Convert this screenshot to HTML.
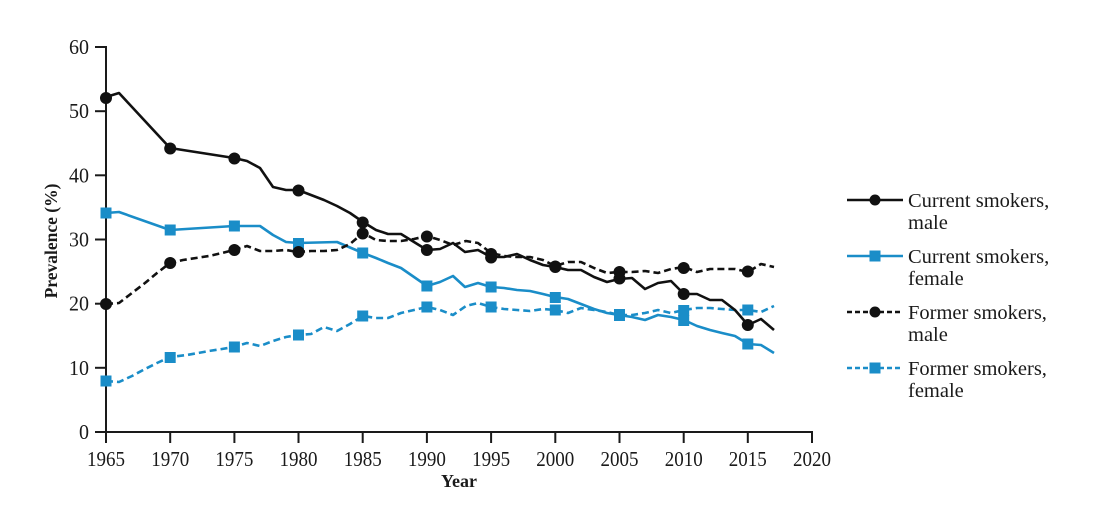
<!DOCTYPE html>
<html>
<head>
<meta charset="utf-8">
<style>
  html, body { margin: 0; padding: 0; background: #ffffff; }
  body { width: 1106px; height: 519px; overflow: hidden; }
  svg { display: block; }
  text { font-family: "Liberation Serif", serif; fill: #1a1a1a; }
</style>
</head>
<body>
<svg width="1106" height="519" viewBox="0 0 1106 519" xmlns="http://www.w3.org/2000/svg">
  <rect x="0" y="0" width="1106" height="519" fill="#ffffff"/>

  <!-- Axes -->
  <g stroke="#1a1a1a" stroke-width="2" fill="none">
    <line x1="106" y1="46" x2="106" y2="433"/>
    <line x1="105" y1="432" x2="813" y2="432"/>
    <line x1="95" y1="47" x2="106" y2="47"/>
    <line x1="95" y1="111.2" x2="106" y2="111.2"/>
    <line x1="95" y1="175.3" x2="106" y2="175.3"/>
    <line x1="95" y1="239.5" x2="106" y2="239.5"/>
    <line x1="95" y1="303.7" x2="106" y2="303.7"/>
    <line x1="95" y1="367.8" x2="106" y2="367.8"/>
    <line x1="95" y1="432" x2="106" y2="432"/>
    <line x1="106" y1="432" x2="106" y2="443"/>
    <line x1="170.2" y1="432" x2="170.2" y2="443"/>
    <line x1="234.4" y1="432" x2="234.4" y2="443"/>
    <line x1="298.5" y1="432" x2="298.5" y2="443"/>
    <line x1="362.7" y1="432" x2="362.7" y2="443"/>
    <line x1="426.9" y1="432" x2="426.9" y2="443"/>
    <line x1="491.1" y1="432" x2="491.1" y2="443"/>
    <line x1="555.3" y1="432" x2="555.3" y2="443"/>
    <line x1="619.5" y1="432" x2="619.5" y2="443"/>
    <line x1="683.7" y1="432" x2="683.7" y2="443"/>
    <line x1="747.8" y1="432" x2="747.8" y2="443"/>
    <line x1="812" y1="432" x2="812" y2="443"/>
  </g>

  <!-- y tick labels -->
  <g font-size="21" text-anchor="end">
    <text x="89" y="54" textLength="20" lengthAdjust="spacingAndGlyphs">60</text>
    <text x="89" y="118.2" textLength="20" lengthAdjust="spacingAndGlyphs">50</text>
    <text x="89" y="182.3" textLength="20" lengthAdjust="spacingAndGlyphs">40</text>
    <text x="89" y="246.5" textLength="20" lengthAdjust="spacingAndGlyphs">30</text>
    <text x="89" y="310.7" textLength="20" lengthAdjust="spacingAndGlyphs">20</text>
    <text x="89" y="374.8" textLength="20" lengthAdjust="spacingAndGlyphs">10</text>
    <text x="89" y="439" textLength="10" lengthAdjust="spacingAndGlyphs">0</text>
  </g>

  <!-- x tick labels -->
  <g font-size="21" text-anchor="middle">
    <text x="106" y="466" textLength="38" lengthAdjust="spacingAndGlyphs">1965</text>
    <text x="170.2" y="466" textLength="38" lengthAdjust="spacingAndGlyphs">1970</text>
    <text x="234.4" y="466" textLength="38" lengthAdjust="spacingAndGlyphs">1975</text>
    <text x="298.5" y="466" textLength="38" lengthAdjust="spacingAndGlyphs">1980</text>
    <text x="362.7" y="466" textLength="38" lengthAdjust="spacingAndGlyphs">1985</text>
    <text x="426.9" y="466" textLength="38" lengthAdjust="spacingAndGlyphs">1990</text>
    <text x="491.1" y="466" textLength="38" lengthAdjust="spacingAndGlyphs">1995</text>
    <text x="555.3" y="466" textLength="38" lengthAdjust="spacingAndGlyphs">2000</text>
    <text x="619.5" y="466" textLength="38" lengthAdjust="spacingAndGlyphs">2005</text>
    <text x="683.7" y="466" textLength="38" lengthAdjust="spacingAndGlyphs">2010</text>
    <text x="747.8" y="466" textLength="38" lengthAdjust="spacingAndGlyphs">2015</text>
    <text x="812" y="466" textLength="38" lengthAdjust="spacingAndGlyphs">2020</text>
  </g>

  <!-- axis titles -->
  <text x="459" y="487" font-size="18" font-weight="bold" text-anchor="middle">Year</text>
  <text transform="translate(57,241) rotate(-90)" font-size="17.5" font-weight="bold" text-anchor="middle">Prevalence (%)</text>

  <!-- Former smokers, female (dashed blue) -->
  <polyline fill="none" stroke="#1a8dc8" stroke-width="2.6" stroke-dasharray="7,4" stroke-linejoin="round"
    points="106,381 119,382 132,376 145,369 157,363 170,357 187,355 209,351 222,349 234,347 247,343 260,346 273,341 286,337 298,335 311,334 324,327 337,331 350,324 363,316 376,318 388,318 401,313 414,310 427,307 440,310 453,315 466,306 478,303 491,307 504,309 517,310 530,311 543,309 555,310 568,313 581,308 594,310 607,312 619,315 632,315 645,313 658,310 671,313 684,310 697,308 710,308 722,309 735,310 748,310 761,312 774,306"/>

  <!-- Current smokers, female (solid blue) -->
  <polyline fill="none" stroke="#1a8dc8" stroke-width="2.6" stroke-linejoin="round"
    points="106,213 119,212 170,230 234,226 260,226 273,235 286,242 298,243 337,242 363,253 376,258 388,263 401,268 414,277 427,286 440,282 453,276 465,287 478,283 491,287 504,288 517,290 530,291 543,294 555,297 568,299 581,304 594,309 607,313 619,315 632,317 645,320 658,315 671,317 684,320 697,326 710,330 722,333 735,336 748,344 761,345 774,353"/>

  <!-- Former smokers, male (dashed black) -->
  <polyline fill="none" stroke="#111111" stroke-width="2.6" stroke-dasharray="7,4" stroke-linejoin="round"
    points="106,304 119,303 132,293 145,283 157,273 170,263 183,260 196,258 209,256 222,253 234,250 247,246 260,251 273,251 286,250 298,252 311,251 324,251 337,250 350,244 363,233 376,240 388,241 401,241 414,239 427,236 440,240 453,245 466,241 478,243 491,253 504,256 517,257 530,257 543,260 555,266 568,262 581,262 594,268 607,273 619,272 632,272 645,271 658,273 671,269 684,267 697,272 710,269 722,269 735,269 748,272 761,264 774,267"/>

  <!-- Current smokers, male (solid black) -->
  <polyline fill="none" stroke="#111111" stroke-width="2.6" stroke-linejoin="round"
    points="106,97 119,93 170,148 234,158 247,161 260,168 273,187 286,190 298,190 311,195 324,200 337,206 350,213 363,222 376,230 388,234 401,234 414,242 427,250 440,249 453,243 465,252 478,250 491,257 504,257 517,254 530,260 543,265 555,267 568,270 581,270 594,277 607,282 619,279 632,278 645,289 658,283 671,281 684,294 697,294 710,300 722,300 735,310 748,325 761,319 774,330"/>

  <!-- Markers: former female -->
  <g fill="#1a8dc8">
    <rect x="100.5" y="375.5" width="11" height="11"/>
    <rect x="164.7" y="352" width="11" height="11"/>
    <rect x="228.9" y="341.5" width="11" height="11"/>
    <rect x="293" y="329.5" width="11" height="11"/>
    <rect x="357.2" y="310.5" width="11" height="11"/>
    <rect x="421.4" y="301.5" width="11" height="11"/>
    <rect x="485.6" y="301.5" width="11" height="11"/>
    <rect x="549.8" y="304.5" width="11" height="11"/>
    <rect x="614" y="309" width="11" height="11"/>
    <rect x="678.2" y="305" width="11" height="11"/>
    <rect x="742.3" y="304.5" width="11" height="11"/>
  </g>
  <!-- Markers: current female -->
  <g fill="#1a8dc8">
    <rect x="100.5" y="207.5" width="11" height="11"/>
    <rect x="164.7" y="224.5" width="11" height="11"/>
    <rect x="228.9" y="220.5" width="11" height="11"/>
    <rect x="293" y="238" width="11" height="11"/>
    <rect x="357.2" y="247.5" width="11" height="11"/>
    <rect x="421.4" y="280.5" width="11" height="11"/>
    <rect x="485.6" y="281.5" width="11" height="11"/>
    <rect x="549.8" y="292" width="11" height="11"/>
    <rect x="614" y="310" width="11" height="11"/>
    <rect x="678.2" y="315" width="11" height="11"/>
    <rect x="742.3" y="338.5" width="11" height="11"/>
  </g>
  <!-- Markers: former male -->
  <g fill="#111111">
    <circle cx="106" cy="304" r="6"/>
    <circle cx="170.2" cy="263" r="6"/>
    <circle cx="234.4" cy="250" r="6"/>
    <circle cx="298.5" cy="252" r="6"/>
    <circle cx="362.7" cy="233.5" r="6"/>
    <circle cx="426.9" cy="236.5" r="6"/>
    <circle cx="491.1" cy="254" r="6"/>
    <circle cx="555.3" cy="266.5" r="6"/>
    <circle cx="619.5" cy="272" r="6"/>
    <circle cx="683.7" cy="268" r="6"/>
    <circle cx="747.8" cy="271.5" r="6"/>
  </g>
  <!-- Markers: current male -->
  <g fill="#111111">
    <circle cx="106" cy="98" r="6"/>
    <circle cx="170.2" cy="148.5" r="6"/>
    <circle cx="234.4" cy="158.5" r="6"/>
    <circle cx="298.5" cy="190.5" r="6"/>
    <circle cx="362.7" cy="222.5" r="6"/>
    <circle cx="426.9" cy="250" r="6"/>
    <circle cx="491.1" cy="257.5" r="6"/>
    <circle cx="555.3" cy="267" r="6"/>
    <circle cx="619.5" cy="278.5" r="6"/>
    <circle cx="683.7" cy="294" r="6"/>
    <circle cx="747.8" cy="325" r="6"/>
  </g>

  <!-- Legend -->
  <g font-size="20.5">
    <line x1="847" y1="200" x2="903" y2="200" stroke="#111111" stroke-width="2.6"/>
    <circle cx="875" cy="200" r="5.5" fill="#111111"/>
    <text x="908" y="207">Current smokers,</text>
    <text x="908" y="229">male</text>

    <line x1="847" y1="256" x2="903" y2="256" stroke="#1a8dc8" stroke-width="2.6"/>
    <rect x="869.5" y="250.5" width="11" height="11" fill="#1a8dc8"/>
    <text x="908" y="263">Current smokers,</text>
    <text x="908" y="285">female</text>

    <line x1="847" y1="312" x2="903" y2="312" stroke="#111111" stroke-width="2.6" stroke-dasharray="5,3"/>
    <circle cx="875" cy="312" r="5.5" fill="#111111"/>
    <text x="908" y="319">Former smokers,</text>
    <text x="908" y="341">male</text>

    <line x1="847" y1="368" x2="903" y2="368" stroke="#1a8dc8" stroke-width="2.6" stroke-dasharray="5,3"/>
    <rect x="869.5" y="362.5" width="11" height="11" fill="#1a8dc8"/>
    <text x="908" y="375">Former smokers,</text>
    <text x="908" y="397">female</text>
  </g>
</svg>
</body>
</html>
